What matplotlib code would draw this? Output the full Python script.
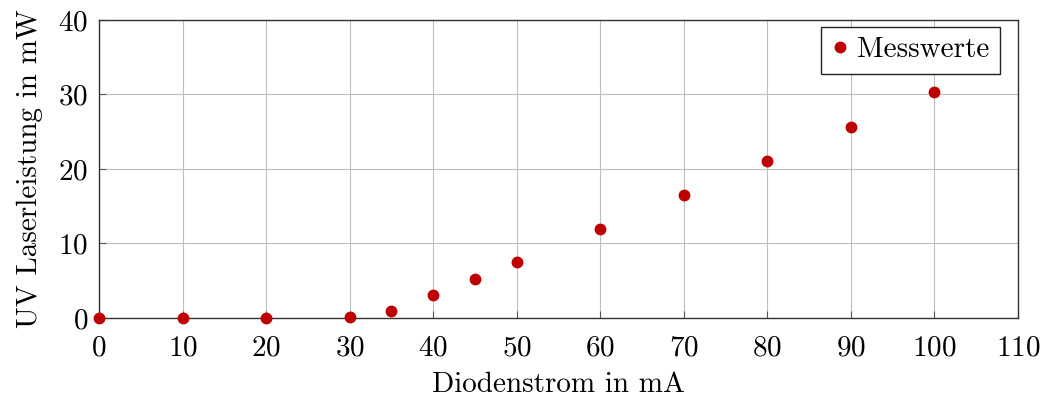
import matplotlib.pyplot as plt

# Messwerte
strom = [0, 10, 20, 30, 35, 40, 45, 50, 60, 70, 80, 90, 100]
leistung = [0.0, 0.0, 0.0, 0.1, 0.9, 3.1, 5.3, 7.5, 12.0, 16.5, 21.1, 25.7, 30.3]
x_ticks = [0, 10, 20, 30, 40, 50, 60, 70, 80, 90, 100, 110]
y_ticks = [0, 10, 20, 30, 40]

plt.rcParams['font.family'] = ['cmr10', 'DejaVu Serif']
plt.rcParams['mathtext.fontset'] = 'cm'
plt.rcParams['axes.formatter.use_mathtext'] = True

fig = plt.figure(figsize=(10.46, 3.99), dpi=100)
ax = fig.add_axes([0.0947, 0.203, 0.8785, 0.747])

ax.plot(strom, leistung, 'o', color='#bf0000', markersize=7.5, label='Messwerte',
        clip_on=False, zorder=5)

ax.set_xlim(0, 110)
ax.set_ylim(0, 40)
ax.set_xticks(x_ticks)
ax.set_yticks(y_ticks)
ax.grid(True, color='#bfbfbf', linewidth=0.8)
ax.set_axisbelow(True)
for s in ax.spines.values():
    s.set_color('#333333')
    s.set_linewidth(1.0)
ax.tick_params(direction='in', length=5, color='#555555', labelsize=21,
               top=False, right=False)
ax.tick_params(axis='x', pad=12)
ax.tick_params(axis='y', pad=8)

ax.set_xlabel('Diodenstrom in mA', fontsize=21, labelpad=8)
ax.set_ylabel('UV Laserleistung in mW', fontsize=21, labelpad=11)

leg = ax.legend(loc='upper right', fontsize=21, handletextpad=0.3, borderpad=0.35,
                handlelength=0.6, fancybox=False, framealpha=1, borderaxespad=0,
                bbox_to_anchor=(0.980, 0.977))
leg.get_frame().set_edgecolor('#222222')
leg.get_frame().set_linewidth(1.0)

fig.savefig('out.png', dpi=100)
